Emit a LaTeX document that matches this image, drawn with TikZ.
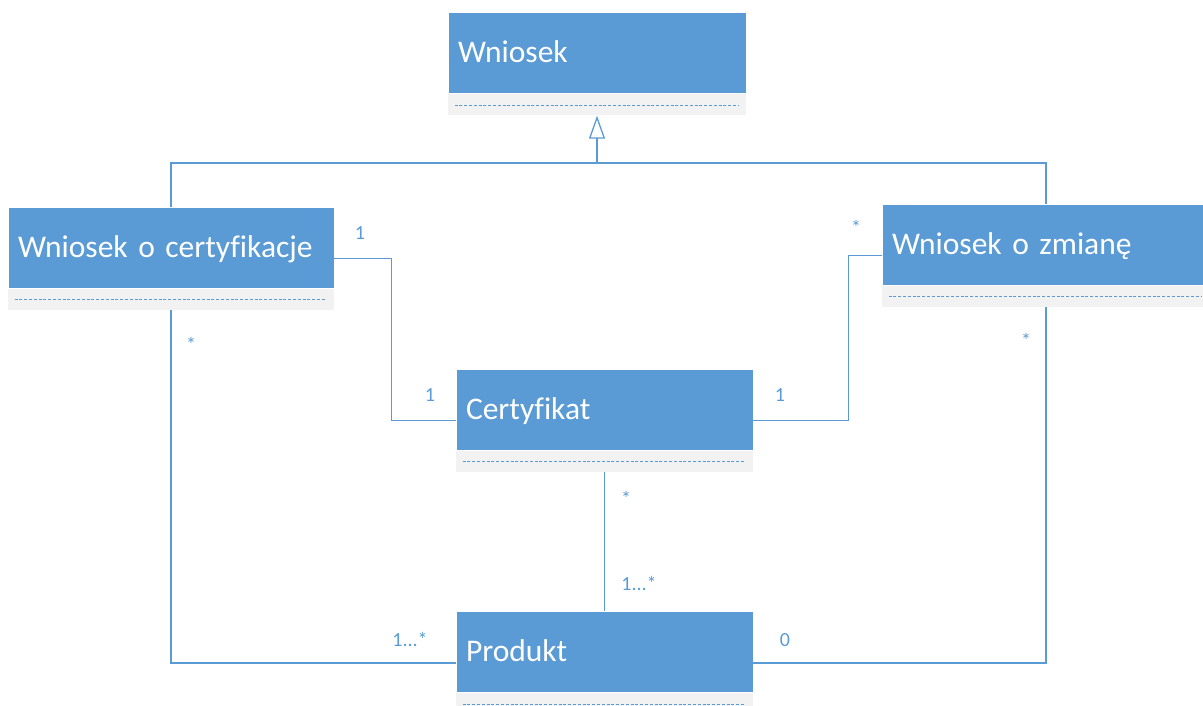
\documentclass[tikz,border=0pt]{standalone}
\usepackage{fontspec}
\setmainfont{Carlito}[Ligatures=CommonOff,WordSpace=0.85]
\usetikzlibrary{arrows.meta,calc}
\definecolor{umlblue}{HTML}{5B9BD5}
\definecolor{umlgray}{HTML}{F2F2F2}
\tikzstyle{cls}=[rectangle,fill=umlgray,minimum height=103,inner sep=0]
\tikzstyle{hdr}=[rectangle,fill=umlblue,draw=white,line width=0.8,text=white,anchor=north,minimum height=81,inner xsep=10,inner ysep=0,text height=24,text depth=5,align=left,font=\fontsize{31.5}{38}\selectfont]
\tikzstyle{attr}=[umlblue,line width=1,dash pattern=on 3 off 1.8]
\tikzstyle{assoc}=[umlblue,line width=1.3]
\tikzstyle{gen}=[assoc,-{Triangle[open,width=16,length=23]}]
\tikzstyle{mult}=[text=umlblue,anchor=base,inner sep=0,font=\fontsize{20}{24}\selectfont]

\begin{document}
\begin{tikzpicture}[x=1pt,y=-1pt]
  \useasboundingbox (0,0) rectangle (1203,706);

  \node[cls,minimum width=298] (wn) at (597,64) {};
  \node[hdr,text width=278] (wnH) at (wn.north) {Wniosek};
  \node[cls,minimum width=326] (woc) at (171,258.5) {};
  \node[hdr,text width=306] (wocH) at (woc.north) {Wniosek o certyfikacje};
  \node[cls,minimum width=328] (woz) at (1046,255.5) {};
  \node[hdr,text width=308] (wozH) at (woz.north) {Wniosek o zmianę};
  \node[cls,minimum width=297] (cert) at (604.5,420.5) {};
  \node[hdr,text width=277] (certH) at (cert.north) {Certyfikat};
  \node[cls,minimum width=297] (prod) at (604.5,663) {};
  \node[hdr,text width=277] (prodH) at (prod.north) {Produkt};

  \draw[attr] ($(wnH.south west)+(7,11)$) -- ($(wnH.south east)+(-8,11)$);
  \draw[attr] ($(wocH.south west)+(7,11)$) -- ($(wocH.south east)+(-8,11)$);
  \draw[attr] ($(wozH.south west)+(7,11)$) -- ($(wozH.south east)+(-8,11)$);
  \draw[attr] ($(certH.south west)+(7,11)$) -- ($(certH.south east)+(-8,11)$);
  \draw[attr] ($(prodH.south west)+(7,11)$) -- ($(prodH.south east)+(-8,11)$);

  \coordinate (genJ) at (597,163);
  \draw[assoc] (woc.north) |- (genJ) -| (woz.north);
  \draw[gen] (genJ) -- (wn.south);

  \draw[assoc] (woc.east) -- ++(57,0) |- (cert.west);
  \draw[assoc] (woz.west) -- ++(-33,0) |- (cert.east);
  \draw[assoc] (cert.south) -- (prod.north);
  \draw[assoc] (woc.south) |- (prod.west);
  \draw[assoc] (woz.south) |- (prod.east);

  \node[mult] (m1) at (360,239) {1};
  \node[mult] (m2) at (430,401) {1};
  \node[mult] (m3) at (856,234) {*};
  \node[mult] (m4) at (780,401) {1};
  \node[mult] (m5) at (626,505) {*};
  \node[mult] (m6) at (639,590) {1...*};
  \node[mult] (m7) at (191,351) {*};
  \node[mult] (m8) at (410,646) {1...*};
  \node[mult] (m9) at (1026,347) {*};
  \node[mult] (m10) at (785,646) {0};
\end{tikzpicture}
\end{document}
